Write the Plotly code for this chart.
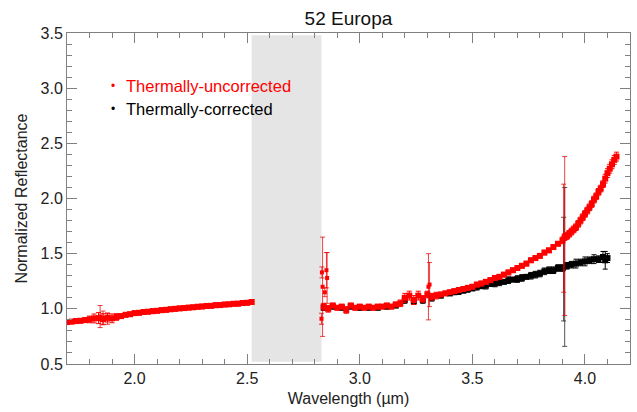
import plotly.graph_objects as go

# ---------------- data ----------------
# Thermally-uncorrected (red) : short-wavelength segment
red_left_x = [1.70, 1.72, 1.74, 1.76, 1.78, 1.80, 1.82, 1.84, 1.86, 1.88, 1.90, 1.92, 1.94,
              1.96, 1.98, 2.00, 2.02, 2.04, 2.06, 2.08, 2.10, 2.12, 2.14, 2.16, 2.18, 2.20,
              2.22, 2.24, 2.26, 2.28, 2.30, 2.32, 2.34, 2.36, 2.38, 2.40, 2.42, 2.44, 2.46,
              2.48, 2.50, 2.52]
red_left_y = [0.880, 0.884, 0.889, 0.892, 0.898, 0.904, 0.913, 0.916, 0.906, 0.921, 0.914, 0.926,
              0.934, 0.946, 0.951, 0.961, 0.964, 0.971, 0.974, 0.979, 0.982, 0.988, 0.991, 0.996,
              1.000, 1.004, 1.007, 1.011, 1.014, 1.019, 1.021, 1.026, 1.027, 1.033, 1.034, 1.039,
              1.041, 1.046, 1.047, 1.053, 1.055, 1.062]
red_left_err = [0.02, 0.02, 0.02, 0.02, 0.02, 0.03, 0.04, 0.05, 0.05, 0.04, 0.04, 0.03,
                0.02, 0.02, 0.02, 0.02, 0.02, 0.02, 0.02, 0.02, 0.02, 0.02, 0.02, 0.02,
                0.02, 0.02, 0.02, 0.02, 0.02, 0.02, 0.02, 0.02, 0.02, 0.02, 0.02, 0.02,
                0.02, 0.02, 0.02, 0.02, 0.02, 0.02]

# Thermally-uncorrected (red) : long-wavelength segment
red_right_x = [2.84, 2.86, 2.88, 2.90, 2.92, 2.94, 2.96, 2.98, 3.00, 3.02, 3.04, 3.06, 3.08,
               3.10, 3.12, 3.14, 3.16, 3.18, 3.20, 3.22, 3.24, 3.26, 3.28, 3.30, 3.32, 3.34,
               3.36, 3.38, 3.40, 3.42, 3.44, 3.46, 3.48, 3.50, 3.52, 3.54, 3.56, 3.58, 3.60,
               3.62, 3.64, 3.66, 3.68, 3.70, 3.72, 3.74, 3.76, 3.78, 3.80, 3.82, 3.84, 3.86,
               3.88, 3.90, 3.91, 3.92, 3.93, 3.94, 3.95, 3.96, 3.97, 3.98, 3.99, 4.00, 4.01,
               4.02, 4.03, 4.04, 4.05, 4.06, 4.07, 4.08, 4.09, 4.10, 4.11, 4.12, 4.13, 4.14]
red_right_y = [1.02, 1.00, 1.03, 1.01, 1.02, 0.99, 1.03, 1.01, 1.02, 1.01, 1.02, 1.01, 1.02,
               1.02, 1.03, 1.02, 1.04, 1.05, 1.10, 1.12, 1.08, 1.12, 1.09, 1.13, 1.11, 1.12,
               1.13, 1.14, 1.15, 1.16, 1.17, 1.18, 1.19, 1.20, 1.22, 1.23, 1.245, 1.26, 1.28,
               1.29, 1.31, 1.33, 1.35, 1.37, 1.39, 1.41, 1.44, 1.46, 1.48, 1.51, 1.53, 1.56,
               1.59, 1.62, 1.65, 1.66, 1.68, 1.70, 1.72, 1.74, 1.77, 1.80, 1.83, 1.86, 1.89,
               1.92, 1.95, 1.99, 2.02, 2.06, 2.09, 2.13, 2.18, 2.23, 2.27, 2.31, 2.35, 2.38]
red_right_err = [0.03, 0.03, 0.02, 0.02, 0.02, 0.03, 0.02, 0.02, 0.02, 0.02, 0.02, 0.02, 0.02,
                 0.02, 0.02, 0.02, 0.02, 0.03, 0.04, 0.04, 0.04, 0.04, 0.03, 0.03, 0.03, 0.03,
                 0.02, 0.02, 0.02, 0.02, 0.02, 0.02, 0.02, 0.02, 0.02, 0.02, 0.02, 0.02, 0.02,
                 0.02, 0.02, 0.02, 0.02, 0.02, 0.02, 0.02, 0.02, 0.02, 0.02, 0.02, 0.02, 0.02,
                 0.02, 0.03, 0.03, 0.03, 0.03, 0.03, 0.03, 0.03, 0.03, 0.03, 0.03, 0.03, 0.03,
                 0.03, 0.03, 0.03, 0.03, 0.03, 0.03, 0.03, 0.04, 0.04, 0.04, 0.04, 0.04, 0.04]

# Red points with large uncertainties
red_spike_x = [1.847, 1.86, 1.88, 2.830, 2.832, 2.835, 2.845, 2.852, 2.855, 3.305, 3.31, 3.905, 3.91]
red_spike_y = [0.93, 0.92, 0.91, 0.91, 1.33, 1.20, 1.15, 1.35, 1.28, 1.20, 1.22, 1.64, 1.66]
red_spike_err = [0.10, 0.06, 0.05, 0.05, 0.05, 0.45, 0.04, 0.16, 0.23, 0.30, 0.20, 0.49, 0.72]

# Thermally-corrected (black)
black_x = [2.84, 2.88, 2.92, 2.96, 3.00, 3.04, 3.08, 3.12, 3.16, 3.20, 3.24, 3.28, 3.32, 3.36,
           3.40, 3.42, 3.44, 3.46, 3.48, 3.50, 3.52, 3.54, 3.56, 3.58, 3.60, 3.62, 3.64, 3.66,
           3.68, 3.70, 3.72, 3.74, 3.76, 3.78, 3.80, 3.82, 3.84, 3.86, 3.88, 3.90, 3.92, 3.94,
           3.96, 3.98, 4.00, 4.02, 4.04, 4.06, 4.08, 4.09, 4.10]
black_y = [1.01, 1.02, 1.01, 1.02, 1.01, 1.01, 1.01, 1.02, 1.03, 1.08, 1.07, 1.08, 1.10, 1.12,
           1.14, 1.15, 1.16, 1.165, 1.18, 1.185, 1.20, 1.205, 1.21, 1.225, 1.23, 1.24, 1.245,
           1.26, 1.265, 1.27, 1.28, 1.29, 1.30, 1.31, 1.32, 1.34, 1.35, 1.35, 1.37, 1.37, 1.39,
           1.40, 1.41, 1.42, 1.43, 1.44, 1.45, 1.45, 1.47, 1.44, 1.46]
black_err = [0.02, 0.02, 0.02, 0.02, 0.02, 0.02, 0.02, 0.02, 0.02, 0.03, 0.03, 0.03, 0.03, 0.02,
             0.02, 0.02, 0.03, 0.02, 0.03, 0.02, 0.03, 0.02, 0.03, 0.02, 0.03, 0.03, 0.02,
             0.03, 0.02, 0.03, 0.03, 0.02, 0.03, 0.03, 0.03, 0.03, 0.03, 0.03, 0.03, 0.03, 0.03,
             0.03, 0.04, 0.03, 0.04, 0.03, 0.04, 0.03, 0.05, 0.08, 0.04]
black_spike_x = [3.905, 3.91]
black_spike_y = [1.36, 1.38]
black_spike_err = [0.47, 0.72]

gap_band = [2.52, 2.83]          # wavelength range masked by telluric absorption
gap_band_y = [0.52, 3.48]

legend_labels = ["Thermally-uncorrected", "Thermally-corrected"]
title_text = "52 Europa"
x_title = "Wavelength (\u00b5m)"
y_title = "Normalized Reflectance"

RED = "#ff0000"
BLACK = "#000000"
FONT = "Liberation Sans, Arial, Helvetica, sans-serif"

fig = go.Figure()


def add_series(x, y, err, color, errcolor, size=6):
    fig.add_trace(go.Scatter(
        x=x, y=y, mode="markers",
        marker=dict(symbol="square", size=size, color=color, line=dict(width=0)),
        error_y=dict(type="data", array=err, visible=True, color=errcolor,
                     thickness=1, width=2.5),
        showlegend=False, hoverinfo="x+y"))


add_series(black_x, black_y, black_err, BLACK, BLACK)
add_series(black_spike_x, black_spike_y, black_spike_err, BLACK, "rgba(40,40,40,0.8)", 4)
add_series(red_left_x, red_left_y, red_left_err, RED, RED)
add_series(red_right_x, red_right_y, red_right_err, RED, RED)
add_series(red_spike_x, red_spike_y, red_spike_err, RED, "rgba(230,0,0,0.75)", 4)

fig.add_shape(type="rect", xref="x", yref="y",
              x0=gap_band[0], x1=gap_band[1], y0=gap_band_y[0], y1=gap_band_y[1],
              fillcolor="#e5e5e5", line=dict(width=0), layer="below")

# legend drawn as text (coloured per entry)
for i, (lab, col) in enumerate(zip(legend_labels, [RED, BLACK])):
    ypos = 3.02 - i * 0.21
    fig.add_annotation(x=1.905, y=ypos, xref="x", yref="y", text="\u2022",
                       showarrow=False, xanchor="center", yanchor="middle",
                       font=dict(size=12, color=col, family=FONT))
    fig.add_annotation(x=1.955, y=ypos, xref="x", yref="y", text=lab,
                       showarrow=False, xanchor="left", yanchor="middle",
                       font=dict(size=16.5, color=col, family=FONT))

axis_common = dict(
    showline=True, linecolor="#808080", linewidth=1, mirror="allticks",
    ticks="inside", ticklen=10, tickwidth=1, tickcolor="#808080",
    showgrid=False, zeroline=False,
    tickfont=dict(size=16, color="#222222", family=FONT),
    minor=dict(ticks="inside", ticklen=5, tickcolor="#808080", dtick=0.1, showgrid=False),
)

fig.update_layout(
    width=637, height=412,
    margin=dict(l=67, r=7, t=33, b=48),
    paper_bgcolor="white", plot_bgcolor="white",
    font=dict(family=FONT, color="#222222"),
    title=dict(text=title_text, x=0.547, xanchor="center", y=0.955, yanchor="middle",
               font=dict(size=19, color="#111111", family=FONT)),
    xaxis=dict(range=[1.7, 4.2], dtick=0.5, tick0=2.0, tickformat=".1f",
               title=dict(text=x_title, font=dict(size=16, color="#222222"), standoff=6),
               **axis_common),
    yaxis=dict(range=[0.5, 3.5], dtick=0.5, tick0=0.5, tickformat=".1f",
               title=dict(text=y_title, font=dict(size=16, color="#222222"), standoff=8),
               **axis_common),
)

fig.write_html("out.html")
